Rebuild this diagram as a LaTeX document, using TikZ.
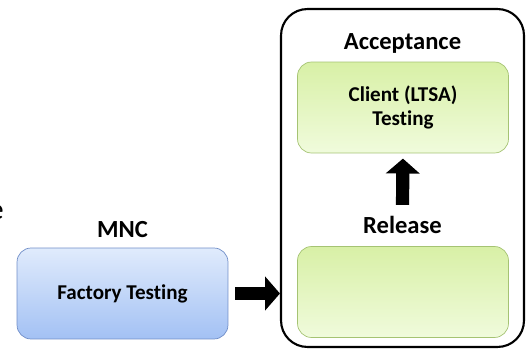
\documentclass[tikz,border=0pt]{standalone}
\usepackage{fontspec}
\setmainfont{Carlito}[RawFeature={-liga;-clig;-dlig;-calt}]
\usetikzlibrary{arrows.meta,positioning,calc}
\definecolor{bluetop}{RGB}{224,235,252}
\definecolor{bluebot}{RGB}{163,193,244}
\definecolor{blueline}{RGB}{112,142,200}
\definecolor{greentop}{RGB}{216,240,166}
\definecolor{greenbot}{RGB}{240,251,220}
\definecolor{greenline}{RGB}{165,195,115}
\tikzset{
  kulso/.style={draw,line width=1.2pt,rounded corners=15pt,minimum width=4.86cm,minimum height=6.76cm},
  kekdoboz/.style={draw=blueline,rounded corners=8pt,top color=bluetop,bottom color=bluebot,
                   minimum width=4.22cm,minimum height=1.82cm,align=center,font=\fontsize{12}{13.8}\selectfont\bfseries},
  zolddoboz/.style={draw=greenline,rounded corners=8pt,top color=greentop,bottom color=greenbot,
                    minimum width=4.22cm,minimum height=1.82cm,align=center,font=\fontsize{12}{13.8}\selectfont\bfseries},
  cim/.style={font=\fontsize{14}{16}\selectfont\bfseries,inner sep=0pt},
  vastag/.style={line width=7.5pt,-{Triangle[length=8.5pt,width=19pt]}},
}
\begin{document}
\begin{tikzpicture}[x=0.02cm,y=-0.02cm]
  \useasboundingbox (0,0) rectangle (530,354);
  % bal oldal
  \node[font=\fontsize{17}{20}\selectfont,anchor=east,inner sep=0pt] (e) at (4,212) {e};
  \node[kekdoboz] (gyar) at (122.5,293.5) {Factory Testing};
  \node[cim] (mnc) at (122.5,230) {MNC};
  % elfogadas
  \node[kulso] (elf) at (402.5,178) {};
  \node[cim] (acc) at (402.5,43) {Acceptance};
  \node[zolddoboz] (kliens) at (403,107.5) {Client (LTSA)\\Testing};
  \node[cim] (rel) at (402.5,225) {Release};
  \node[zolddoboz] (kiadas) at (403,292) {};
  % nyilak
  \draw[vastag,shorten <=4pt] (gyar.east) -- (elf.west |- gyar.east);
  \draw[vastag,shorten >=3pt] ($(rel.north)+(0,-11)$) coordinate (talp) -- (kliens.south);
\end{tikzpicture}
\end{document}
